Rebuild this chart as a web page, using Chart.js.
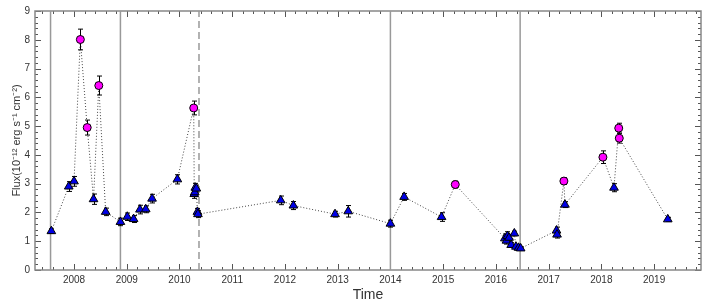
<!DOCTYPE html>
<html>
<head>
<meta charset="utf-8">
<script src="https://cdn.jsdelivr.net/npm/chart.js@4.4.1/dist/chart.umd.min.js"></script>
<style>
  html, body { margin: 0; padding: 0; background: #fff; }
  #wrap { width: 708px; height: 304px; }
</style>
</head>
<body>
<div id="wrap"><canvas id="c"></canvas></div>
<script>
// triangles (blue)
const triYear = [2007.57, 2007.90, 2008.00, 2008.37, 2008.60, 2008.88, 2009.01, 2009.13, 2009.25, 2009.36,
  2009.48, 2009.96, 2010.28, 2010.29, 2010.30, 2010.32, 2010.34, 2010.35, 2011.92, 2012.16,
  2012.95, 2013.20, 2014.00, 2014.26, 2014.97, 2016.17, 2016.20, 2016.22, 2016.25, 2016.29,
  2016.35, 2016.38, 2016.43, 2016.47, 2017.15, 2017.16, 2017.31, 2018.24, 2019.26];
const triFlux = [1.35, 2.90, 3.08, 2.46, 2.02, 1.67, 1.85, 1.77, 2.10, 2.11,
  2.48, 3.15, 2.64, 2.70, 2.86, 2.83, 2.02, 1.94, 2.42, 2.24,
  1.94, 2.04, 1.61, 2.54, 1.84, 1.10, 1.02, 1.18, 1.12, 0.87,
  1.27, 0.81, 0.77, 0.75, 1.37, 1.23, 2.27, 2.86, 1.76];
const triErr = [0.08, 0.17, 0.17, 0.18, 0.13, 0.13, 0.13, 0.12, 0.15, 0.12,
  0.15, 0.16, 0.15, 0.15, 0.15, 0.12, 0.12, 0.12, 0.15, 0.14,
  0.10, 0.20, 0.12, 0.12, 0.15, 0.15, 0.12, 0.15, 0.12, 0.08,
  0.08, 0.06, 0.06, 0.05, 0.12, 0.12, 0.10, 0.14, 0.07];

// circles (magenta)
const circYear = [2008.12, 2008.25, 2008.47, 2010.27, 2015.23, 2017.29, 2018.03, 2018.33, 2018.34];
const circFlux = [8.01, 4.95, 6.41, 5.63, 2.97, 3.09, 3.92, 4.93, 4.58];
const circErr = [0.36, 0.26, 0.33, 0.24, 0.12, 0.12, 0.22, 0.17, 0.17];

const yearTicks = [2008, 2009, 2010, 2011, 2012, 2013, 2014, 2015, 2016, 2017, 2018, 2019];
const fluxTicks = [0, 1, 2, 3, 4, 5, 6, 7, 8, 9];
const solidLines = [2007.555, 2008.88, 2014.0, 2016.46];
const dashedLines = [2010.37];

const pts = (xs, ys) => xs.map((x, i) => ({ x: x, y: ys[i] }));
const allPts = pts(triYear, triFlux).concat(pts(circYear, circFlux)).sort((a, b) => a.x - b.x);

const datasets = [
  { data: pts(circYear, circFlux), err: circErr, pointStyle: 'circle', pointRadius: 4,
    backgroundColor: '#ff00ff', borderColor: '#000', pointBorderWidth: 1, showLine: false },
  { data: pts(triYear, triFlux), err: triErr, pointStyle: 'triangle', pointRadius: 5,
    backgroundColor: '#0000e6', borderColor: '#000', pointBorderWidth: 1, showLine: false },
  { data: allPts, showLine: true, pointRadius: 0, borderColor: '#444', borderWidth: 1,
    borderDash: [1, 2], tension: 0 }
];
solidLines.forEach(v => datasets.push({ data: [{ x: v, y: 0 }, { x: v, y: 9 }], showLine: true,
  pointRadius: 0, borderColor: '#999', borderWidth: 1.5 }));
dashedLines.forEach(v => datasets.push({ data: [{ x: v, y: 0 }, { x: v, y: 9 }], showLine: true,
  pointRadius: 0, borderColor: '#999', borderWidth: 1.5, borderDash: [7, 4] }));

// error bars under each marker set
const errorBars = {
  id: 'errorBars',
  beforeDatasetDraw(chart, args) {
    const ds = chart.data.datasets[args.index];
    if (!ds.err) return;
    const { ctx, scales: { x, y } } = chart;
    ctx.save();
    ctx.strokeStyle = '#000';
    ctx.lineWidth = 1;
    ds.data.forEach((p, i) => {
      const px = Math.round(x.getPixelForValue(p.x)) + 0.5;
      const y1 = y.getPixelForValue(p.y - ds.err[i]);
      const y2 = y.getPixelForValue(p.y + ds.err[i]);
      ctx.beginPath();
      ctx.moveTo(px, y1); ctx.lineTo(px, y2);
      ctx.moveTo(px - 2.5, y1); ctx.lineTo(px + 2.5, y1);
      ctx.moveTo(px - 2.5, y2); ctx.lineTo(px + 2.5, y2);
      ctx.stroke();
    });
    ctx.restore();
  }
};

// box with inward ticks on all four sides
const frame = {
  id: 'frame',
  beforeDatasetsDraw(chart) {
    const { ctx, chartArea: a, scales: { x, y } } = chart;
    ctx.save();
    ctx.lineWidth = 1;
    ctx.strokeStyle = '#555';
    ctx.beginPath();
    for (let i = Math.ceil(x.min * 5); i <= Math.floor(x.max * 5); i++) {
      const px = Math.round(x.getPixelForValue(i / 5)) + 0.5;
      const len = i % 5 === 0 ? 6 : 3;
      ctx.moveTo(px, a.bottom); ctx.lineTo(px, a.bottom - len);
      ctx.moveTo(px, a.top); ctx.lineTo(px, a.top + len);
    }
    for (let i = 0; i <= 45; i++) {
      const py = Math.round(y.getPixelForValue(i / 5)) + 0.5;
      const len = i % 5 === 0 ? 6 : 3;
      ctx.moveTo(a.left, py); ctx.lineTo(a.left + len, py);
      ctx.moveTo(a.right, py); ctx.lineTo(a.right - len, py);
    }
    ctx.stroke();
    ctx.strokeStyle = '#888';
    ctx.lineWidth = 1.5;
    ctx.strokeRect(a.left, a.top, a.right - a.left, a.bottom - a.top);
    ctx.restore();
  }
};

new Chart(document.getElementById('c'), {
  type: 'scatter',
  data: { datasets: datasets },
  options: {
    responsive: true,
    maintainAspectRatio: false,
    animation: false,
    layout: { padding: { left: 0, right: 7, top: 3, bottom: 0 } },
    plugins: { legend: { display: false }, tooltip: { enabled: false } },
    scales: {
      x: {
        type: 'linear', min: 2007.26, max: 2019.89,
        afterBuildTicks: s => { s.ticks = yearTicks.map(v => ({ value: v })); },
        afterFit: s => { s.height = 34; },
        grid: { display: false, drawTicks: false }, border: { display: false },
        ticks: { padding: 4, color: '#333', font: { family: 'Liberation Sans', size: 10 },
          callback: v => String(v), maxRotation: 0 },
        title: { display: true, text: 'Time', color: '#333', padding: { top: 2, bottom: 0 },
          font: { family: 'Liberation Sans', size: 14 } }
      },
      y: {
        min: 0, max: 9,
        afterBuildTicks: s => { s.ticks = fluxTicks.map(v => ({ value: v })); },
        afterFit: s => { s.width = 35; },
        grid: { display: false, drawTicks: false }, border: { display: false },
        ticks: { padding: 5, color: '#333', font: { family: 'Liberation Sans', size: 10 } },
        title: { display: true, text: 'Flux(10⁻¹² erg s⁻¹ cm⁻²)', color: '#333',
          padding: { top: 10, bottom: 0 }, font: { family: 'Liberation Sans', size: 11 } }
      }
    }
  },
  plugins: [errorBars, frame]
});
</script>
</body>
</html>
